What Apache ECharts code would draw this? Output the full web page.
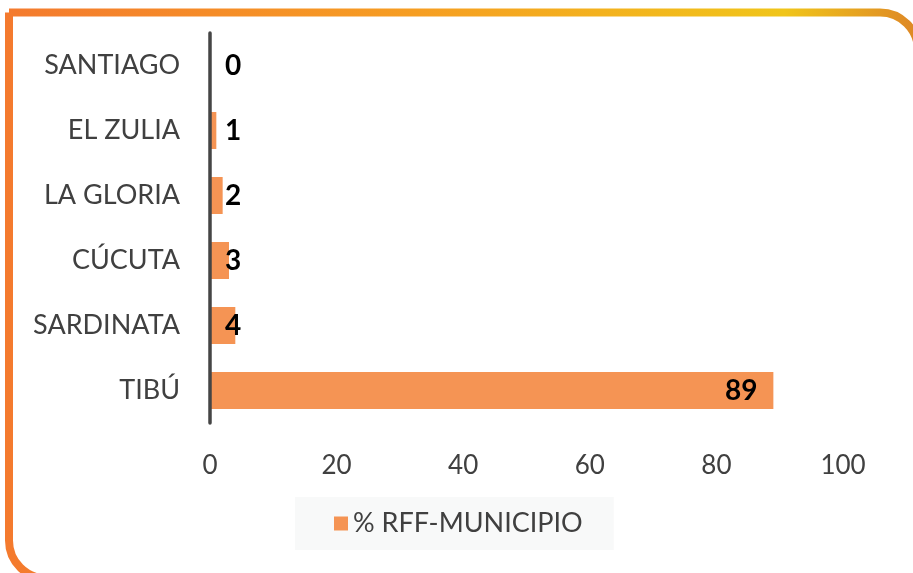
<!DOCTYPE html>
<html>
<head>
<meta charset="utf-8">
<script src="https://cdn.jsdelivr.net/npm/echarts@6/dist/echarts.min.js"></script>
<style>
  html, body { margin: 0; padding: 0; background: #fff; }
  #chart { width: 913px; height: 573px; }
</style>
</head>
<body>
<div id="chart"></div>
<script>
// municipalities, top to bottom as shown
const categories = ["SANTIAGO", "EL ZULIA", "LA GLORIA", "CÚCUTA", "SARDINATA", "TIBÚ"];
const values = [0, 1, 2, 3, 4, 89];
const seriesName = "% RFF-MUNICIPIO";
const xTicks = [0, 20, 40, 60, 80, 100];

const font = "Lato";
const textColor = "#404040";

const chart = echarts.init(document.getElementById("chart"));

chart.setOption({
  animation: false,
  backgroundColor: "#fff",
  grid: { left: 210, right: 70, top: 33, bottom: 150, containLabel: false },
  xAxis: {
    type: "value",
    min: xTicks[0],
    max: xTicks[xTicks.length - 1],
    interval: 20,
    axisLine: { show: false },
    axisTick: { show: false },
    splitLine: { show: false },
    axisLabel: { color: textColor, fontSize: 26, fontFamily: font, margin: 30 },
  },
  yAxis: {
    type: "category",
    data: categories,
    inverse: true,
    z: 5,
    axisLine: { show: true, lineStyle: { color: "#454545", width: 3.5 } },
    axisTick: { show: false },
    axisLabel: { color: textColor, fontSize: 27, fontFamily: font, margin: 30 },
  },
  legend: {
    data: [seriesName],
    left: 295,
    top: 497,
    padding: [13, 31, 13, 39],
    backgroundColor: "#F8F9F9",
    itemWidth: 14,
    itemHeight: 14,
    itemGap: 9,
    icon: "rect",
    textStyle: { color: textColor, fontSize: 27, fontFamily: font },
  },
  graphic: [
    {
      type: "rect",
      silent: true,
      z: 100,
      shape: { x: 9, y: 12.5, width: 909, height: 566, r: [0, 38, 0, 38] },
      style: {
        fill: "none",
        lineWidth: 8,
        stroke: new echarts.graphic.LinearGradient(0, 0, 1, 0, [
          { offset: 0, color: "#F47A2E" },
          { offset: 0.45, color: "#F69E22" },
          { offset: 0.85, color: "#F0C51A" },
          { offset: 1, color: "#DD8526" },
        ]),
      },
    },
  ],
  series: [
    {
      name: seriesName,
      type: "bar",
      // the largest bar carries its label at the bar end, the rest at the base
      data: values.map((v) =>
        v > 50
          ? { value: v, label: { position: "insideRight", distance: 16 } }
          : v
      ),
      barWidth: 37,
      itemStyle: { color: "#F59454" },
      label: {
        show: true,
        position: "insideLeft",
        distance: 15,
        color: "#000",
        fontWeight: "bold",
        fontSize: 28,
        fontFamily: font,
      },
    },
  ],
});
</script>
</body>
</html>
